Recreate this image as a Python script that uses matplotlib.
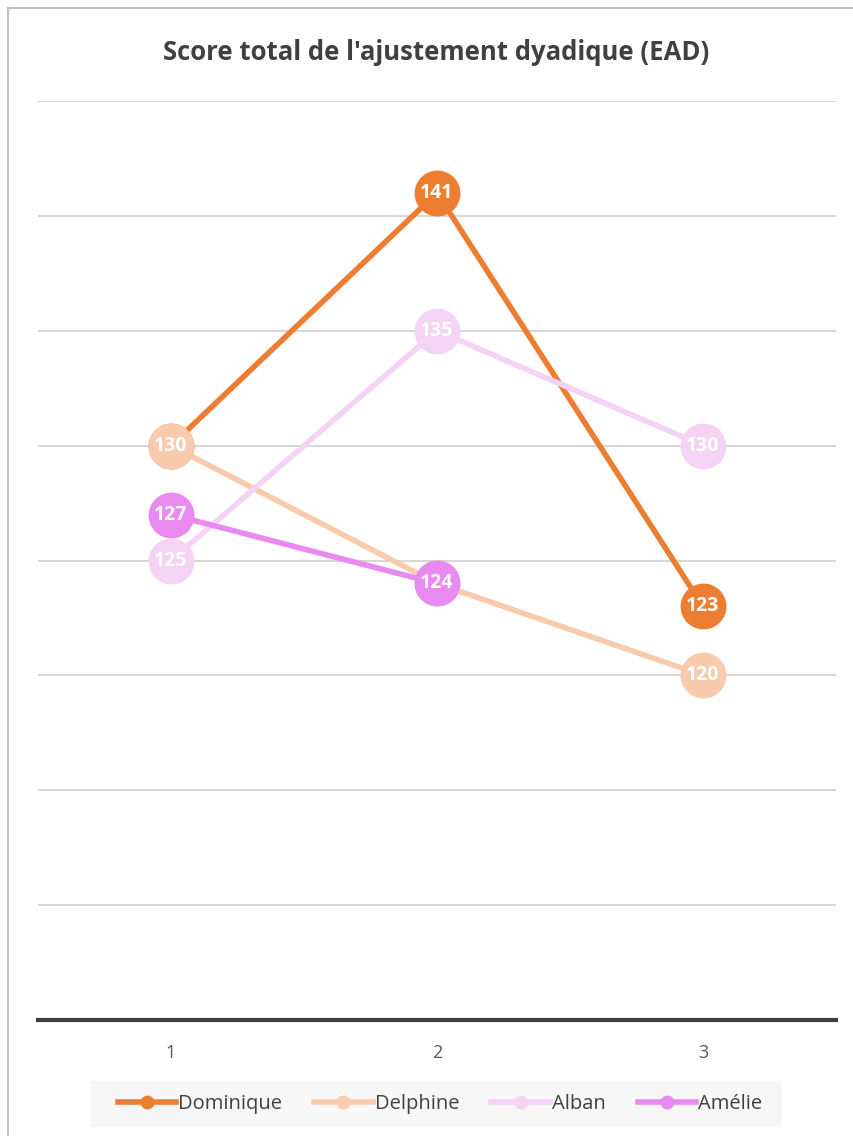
import matplotlib
matplotlib.use("Agg")
import matplotlib.pyplot as plt
from matplotlib.lines import Line2D
from matplotlib.patches import Rectangle

# data
sessions = [1, 2, 3]
names = ["Dominique", "Delphine", "Alban", "Amélie"]
dominique = [130, 141, 123]
delphine = [130, 124, 120]
alban = [125, 135, 130]
amelie = [127, 124]
colours = ["#ED7D31", "#F8CBAD", "#F4D3F4", "#E88AF0"]
title = "Score total de l'ajustement dyadique (EAD)"

plt.rcParams['font.family'] = ['Open Sans', 'DejaVu Sans']

fig = plt.figure(figsize=(8.54, 11.36), dpi=100)
ax = fig.add_axes([38/854, 1-1020/1136, (836-38)/854, (1020-101)/1136])

series = [dominique, delphine, alban, amelie]
for i, (vals, col) in enumerate(zip(series, colours)):
	xs = sessions[:len(vals)]
	ax.plot(xs, vals, '-', color=col, lw=4, zorder=3+i)
	ax.plot(xs, vals, 'o', color=col, ms=32, zorder=3+i)
	for x, v in zip(xs, vals):
		ax.text(x, v, str(v), color='white', fontsize=14, fontweight='bold',
			ha='center', va='center', zorder=3+i)

ax.set_xlim(0.5, 3.5)
ax.set_ylim(105, 145)
ax.set_yticks(range(105, 146, 5))
ax.set_yticklabels([])
ax.set_xticks(sessions)
ax.tick_params(axis='both', length=0)
ax.tick_params(axis='x', labelsize=13, colors='#595959', pad=17)
ax.grid(axis='y', color='#D0D0D0', lw=1.2)
ax.set_axisbelow(True)
for s in ['top', 'right', 'left']:
	ax.spines[s].set_visible(False)
ax.spines['bottom'].set_color('#404040')
ax.spines['bottom'].set_linewidth(3)
ax.spines['bottom'].set_zorder(10)

fig.text(436/854, 1-52/1136, title, ha='center', va='center', fontsize=18.5,
	fontweight='bold', color='#404040')

# outer border (left and top visible)
fig.add_artist(Line2D([8/854, 8/854], [0, 1-8/1136], color='#BFBFBF', lw=1.5, transform=fig.transFigure))
fig.add_artist(Line2D([8/854, 1], [1-8/1136, 1-8/1136], color='#BFBFBF', lw=1.5, transform=fig.transFigure))

# legend
fig.add_artist(Rectangle((91/854, 1-1127/1136), (782-91)/854, 46/1136, transform=fig.transFigure,
	facecolor='#F7F7F7', edgecolor='none'))
handles = [Line2D([], [], color=c, lw=4, marker='o', ms=9) for c in colours]
leg = fig.legend(handles, names, loc='center', bbox_to_anchor=(440/854, 1-1104/1136), ncol=4,
	frameon=False, fontsize=14.5, handlelength=2.9, handletextpad=0.1, columnspacing=1.6, labelcolor='#404040')

fig.savefig("out.png", dpi=100)
